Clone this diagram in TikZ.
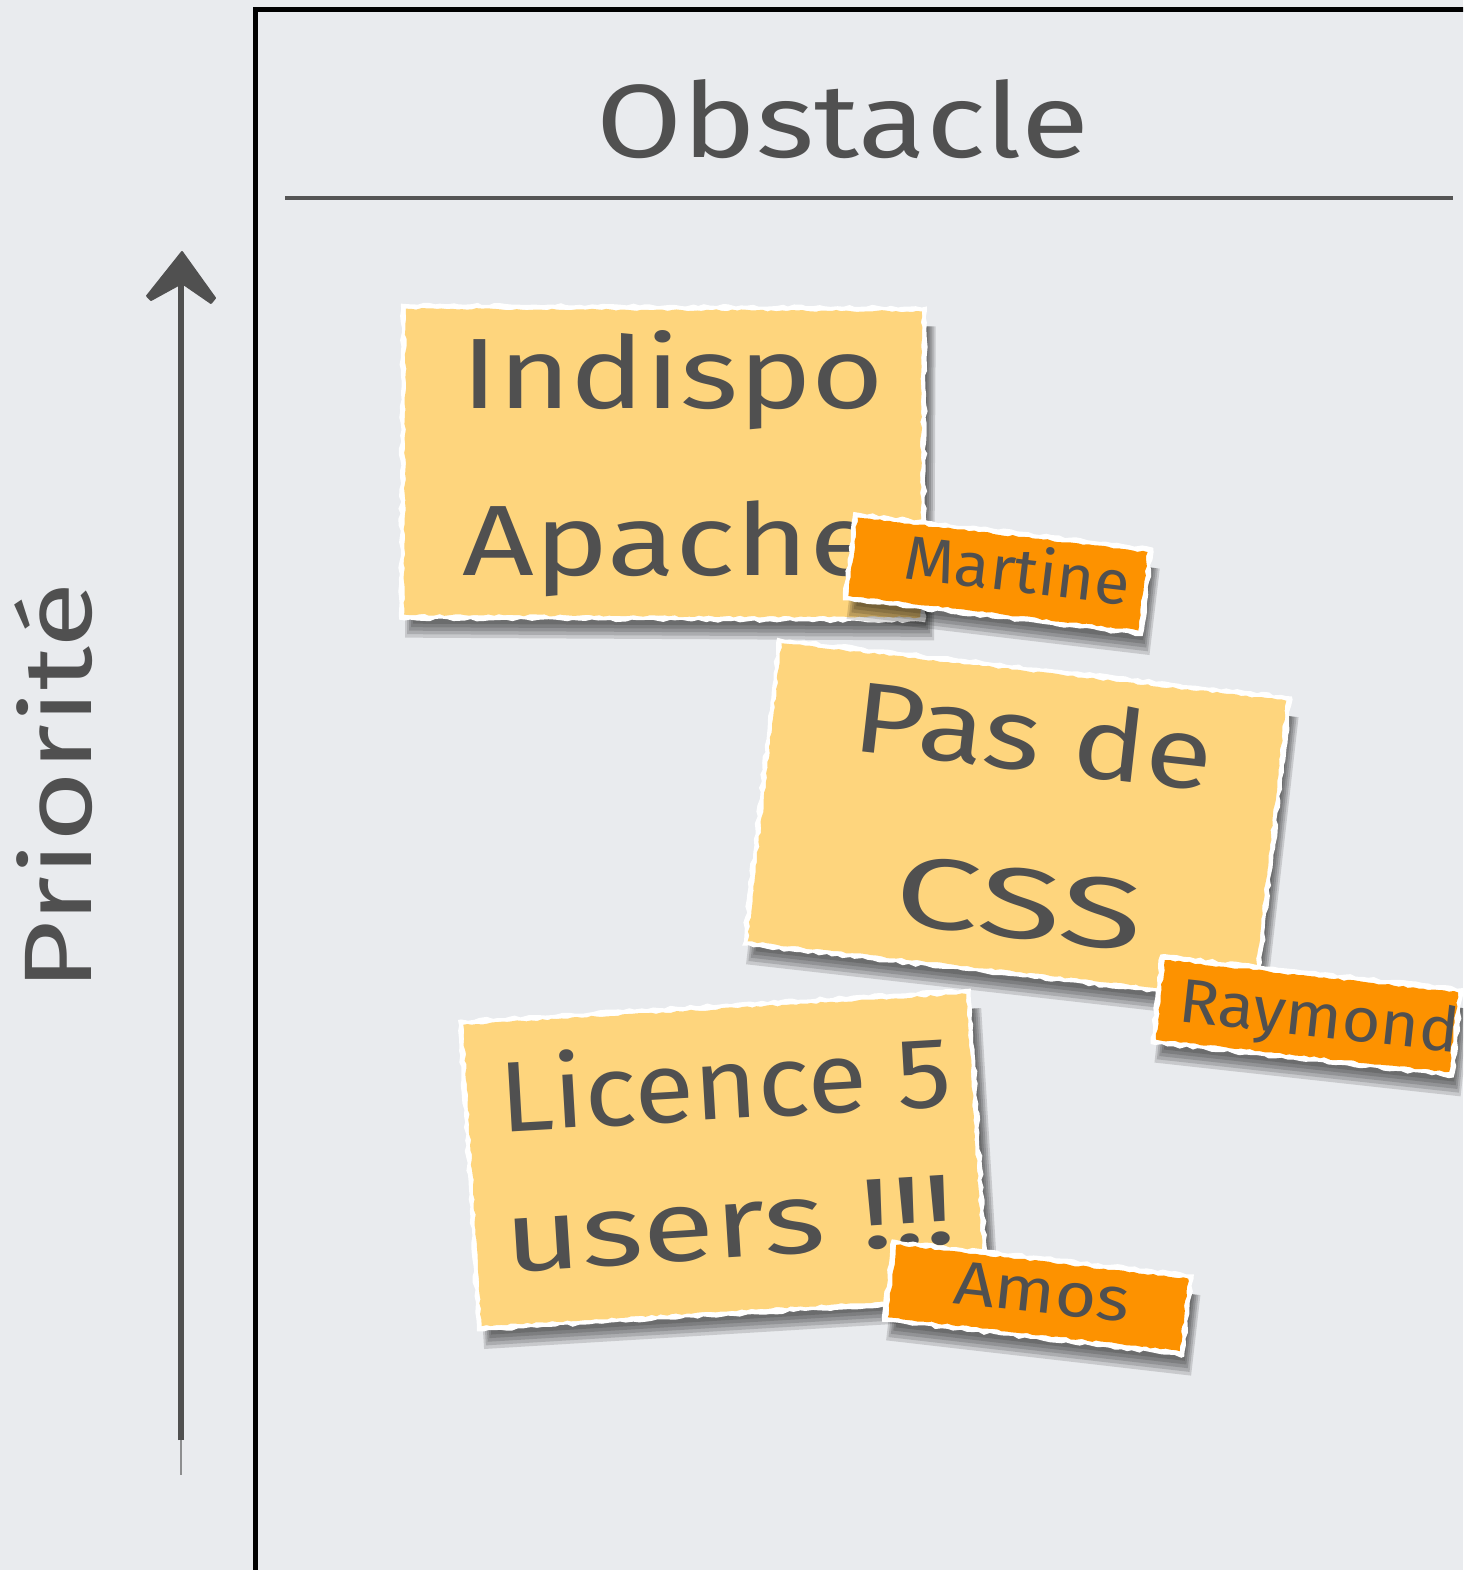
\documentclass[tikz,border=0pt]{standalone}
\usepackage{fontspec}
\setmainfont{Fira Sans}
\newfontfamily\handfont[FakeStretch=1.15]{Fira Sans}
\usetikzlibrary{decorations.pathmorphing}

\definecolor{boardbg}{RGB}{233,235,238}
\definecolor{ink}{RGB}{80,80,80}
\definecolor{rulegray}{RGB}{85,85,85}
\definecolor{noteyellow}{RGB}{254,213,125}
\definecolor{tagorange}{RGB}{253,146,0}

% A torn piece of paper with a soft shadow: width, height, colour
\tikzset{
  pics/paper/.style n args={3}{code={
    \foreach \k in {0,1,2,3,4} {
      \fill[black, opacity=0.14]
        ({-#1/2+14-\k*2},{-#2/2+20}) rectangle ({#1/2+1+\k*2},{#2/2+4+\k*3.5});
    }
    \fill[white, decorate, decoration={random steps,segment length=3pt,amplitude=0.7pt}]
      ({-#1/2},{-#2/2}) rectangle ({#1/2},{#2/2});
    \fill[#3, decorate, decoration={random steps,segment length=2.5pt,amplitude=0.5pt}]
      ({-#1/2+5},{-#2/2+5}) rectangle ({#1/2-5},{#2/2-5});
  }}
}

\begin{document}
\pgfmathsetseed{7}
\begin{tikzpicture}[x=0.5pt,y=-0.5pt,
  inktext/.style={text=ink, inner sep=0pt, anchor=base},
  notetext/.style={inktext, font=\handfont\fontsize{50pt}{50pt}\selectfont},
  tagtext/.style={inktext, font=\handfont\fontsize{31pt}{31pt}\selectfont},
  headtext/.style={inktext, font=\handfont\fontsize{52pt}{52pt}\selectfont},
  axistext/.style={inktext, font=\handfont\fontsize{48pt}{48pt}\selectfont},
]
\useasboundingbox (0,0) rectangle (1463,1570);
\clip (0,0) rectangle (1463,1570);
\fill[boardbg] (0,0) rectangle (1463,1570);

% board frame and title rule
\draw[black, line width=2.5pt] (255,1620) -- (255,9) -- (1520,9);
\draw[rulegray, line width=2pt] (285,198) -- (1453,198);
\node[headtext, xscale=1.04] (title) at (843,157) {Obstacle};

% priority axis
\coordinate (axisfoot) at (181,1440);
\coordinate (axisend) at (181,1475);
\coordinate (axisneck) at (181,284);
\coordinate (axistip) at (182,252);
\draw[ink, line width=3.3pt] (axisfoot) -- (axisneck);
\draw[ink, line width=1.2pt, opacity=0.6] (axisfoot) -- (axisend);
\fill[ink, draw=ink, line width=1pt, line join=round]
  (axistip) -- ++(33,46) -- ++(-4,5) -- ++(-29,-20) -- ++(-31,17) -- ++(-4,-4) -- cycle;
\node[axistext, rotate=90, xscale=1.1] (axislabel) at (91,787) {Priorité};

% first note
\pic[rotate=-0.3] at (663,463) {paper={526}{316}{noteyellow}};
\node[notetext, xscale=1.08] (indispo) at (673,408) {Indispo};
\node[notetext, xscale=1.09] (apache) at (670,575) {Apache};
\pic[rotate=-6.8] at (998,574) {paper={302}{89}{tagorange}};
\node[tagtext, rotate=-6.8, xscale=0.91] (martine) at (1015,592) {Martine};

% second note
\pic[rotate=-6.5] at (1017,821) {paper={518}{310}{noteyellow}};
\node[notetext, rotate=-6.5, xscale=1.07] (pasde) at (1030,771) {Pas de};
\node[notetext, rotate=-6.5, xscale=1.33] (css) at (1015,938) {CSS};
\pic[rotate=-6.3] at (1307,1016) {paper={305}{90}{tagorange}};
\node[tagtext, rotate=-6.3, xscale=0.93] (raymond) at (1317,1037) {Raymond};

% third note
\pic[rotate=3.5] at (724,1160) {paper={514}{312}{noteyellow}};
\node[notetext, rotate=3.3, xscale=0.95] (licence) at (727,1119) {Licence 5};
\node[notetext, rotate=3.6, xscale=1.15] (users) at (732,1258) {users !!!};
\pic[rotate=-6.6] at (1038,1298) {paper={304}{83}{tagorange}};
\node[tagtext, rotate=-6.2] (amos) at (1040,1313) {Amos};
\end{tikzpicture}
\end{document}
